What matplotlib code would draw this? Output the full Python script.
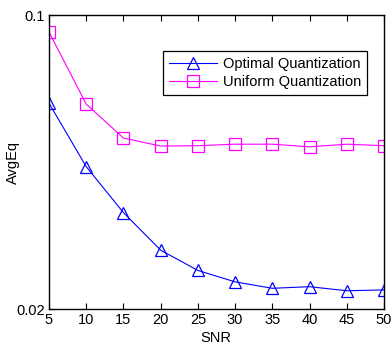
import matplotlib
matplotlib.use("Agg")
import matplotlib.pyplot as plt
from matplotlib.ticker import FixedLocator, NullLocator, FixedFormatter

plt.rcParams['font.family'] = ['Liberation Sans', 'DejaVu Sans']

snr = [5, 10, 15, 20, 25, 30, 35, 40, 45, 50]
optimal = [0.0617, 0.0436, 0.0339, 0.0276, 0.0247, 0.0232, 0.0224, 0.0226, 0.0221, 0.0222]
uniform = [0.0911, 0.0614, 0.0510, 0.0488, 0.0489, 0.0493, 0.0493, 0.0486, 0.0493, 0.0489]
yticks = [0.02, 0.1]
ytick_labels = ['0.02', '0.1']

fig = plt.figure(figsize=(3.91, 3.47), dpi=100)
ax = fig.add_axes([49/391, 1-309/347, (384-49)/391, (309-15)/347])

ax.plot(snr, optimal, color='#0000ff', marker='^', markersize=9, markerfacecolor='none',
        markeredgewidth=0.9, linewidth=0.8, label='Optimal Quantization')
ax.plot(snr, uniform, color='#ff00ff', marker='s', markersize=9, markerfacecolor='none',
        markeredgewidth=0.9, linewidth=0.8, label='Uniform Quantization')

ax.set_yscale('log')
ax.set_xlim(5, 50)
ax.set_ylim(0.02, 0.1)
ax.yaxis.set_major_locator(FixedLocator(yticks))
ax.yaxis.set_major_formatter(FixedFormatter(ytick_labels))
ax.yaxis.set_minor_locator(NullLocator())
ax.set_xticks(snr)
ax.tick_params(direction='in', top=True, right=True, labelsize=10.5, length=4, width=0.8, pad=3)
ax.tick_params(axis='y', right=False)
for s in ax.spines.values():
    s.set_linewidth(1.0)

ax.set_xlabel('SNR', fontsize=10.5)
ax.set_ylabel('AvgEq', fontsize=10.5)
ax.xaxis.set_label_coords(0.497, (309-331)/294)
ax.yaxis.set_label_coords((20-49)/335, 0.5)

leg = ax.legend(loc='upper right', bbox_to_anchor=(367/391, 1-51/347), bbox_transform=fig.transFigure,
                fontsize=10.5, frameon=True, fancybox=False, edgecolor='black', framealpha=1,
                handlelength=3.3, borderpad=0.4, labelspacing=0.3, handletextpad=0.4, borderaxespad=0)
leg.get_frame().set_linewidth(0.9)

fig.savefig('out.png', dpi=100)
